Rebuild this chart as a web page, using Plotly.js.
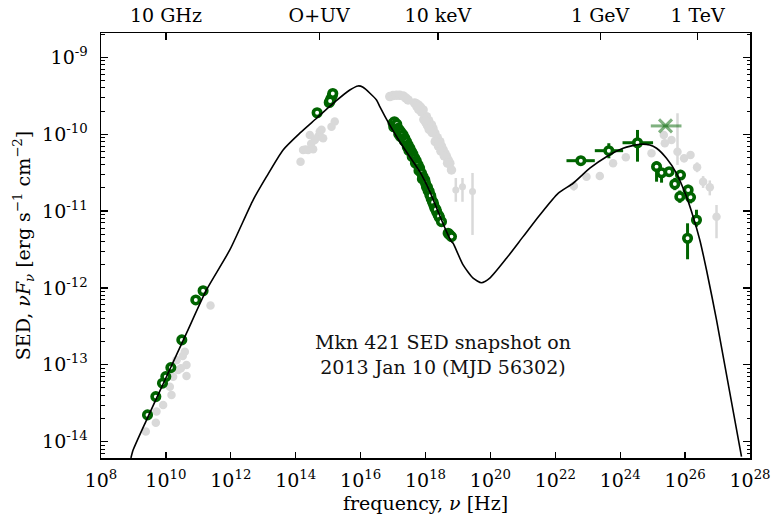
<!DOCTYPE html>
<html>
<head>
<meta charset="utf-8">
<script src="https://cdn.plot.ly/plotly-3.0.1.min.js"></script>
<style>html,body{margin:0;padding:0;background:#fff;}#chart{width:773px;height:521px;}</style>
</head>
<body>
<div id="chart"></div>
<script>
// ---------- data (frequency in Hz, SED in erg s^-1 cm^-2) ----------
// Radio (green, this epoch)
const radioNu  = [2.71e9, 4.89e9, 7.85e9, 9.93e9, 1.42e10, 3.09e10, 8.34e10, 1.40e11];
const radioSed = [2.23e-14, 3.86e-14, 5.77e-14, 7.03e-14, 9.2e-14, 2.11e-13, 6.98e-13, 9.2e-13];
// Optical / UV (green)
const optNu  = [4.57e14, 1.08e15, 1.21e15, 1.34e15, 1.39e15, 1.15e15];
const optSed = [1.90e-10, 2.58e-10, 2.87e-10, 3.18e-10, 3.38e-10, 2.70e-10];
// X-ray (green band)
const xrayNu  = [1.00e17, 1.10e17, 1.05e17, 1.20e17, 1.30e17, 1.43e17, 1.60e17, 1.50e17, 1.80e17, 1.70e17, 2.04e17, 2.30e17, 2.20e17, 2.60e17, 2.91e17, 2.75e17,
                 3.30e17, 3.10e17, 3.71e17, 4.10e17, 3.90e17, 4.68e17, 5.20e17, 4.90e17, 5.92e17, 6.60e17, 6.30e17, 7.53e17, 8.40e17, 8.00e17, 9.51e17, 1.00e18, 1.07e18,
                 1.15e18, 1.20e18, 1.30e18, 1.36e18, 1.50e18, 1.45e18, 1.64e18, 1.80e18, 1.72e18, 1.94e18, 2.20e18, 2.10e18, 2.45e18, 2.70e18, 2.60e18, 3.11e18, 4.98e18, 5.60e18, 6.32e18];
const xraySed = [1.39e-10, 1.45e-10, 1.25e-10, 1.28e-10, 1.35e-10, 1.19e-10, 1.12e-10, 1.00e-10, 1.05e-10, 9.3e-11, 9.77e-11, 8.9e-11, 8.2e-11, 8.0e-11, 7.24e-11, 6.8e-11,
                 6.6e-11, 6.1e-11, 5.92e-11, 5.5e-11, 5.1e-11, 4.86e-11, 4.5e-11, 4.2e-11, 3.97e-11, 3.6e-11, 3.35e-11, 3.10e-11, 2.8e-11, 2.62e-11, 2.54e-11, 2.3e-11, 2.07e-11,
                 2.05e-11, 1.85e-11, 1.80e-11, 1.62e-11, 1.45e-11, 1.58e-11, 1.32e-11, 1.2e-11, 1.30e-11, 1.09e-11, 9.8e-12, 1.05e-11, 8.89e-12, 8.2e-12, 8.6e-12, 7.28e-12, 5.14e-12, 4.90e-12, 4.65e-12];
// Fermi-LAT (green, with bin widths)
const lateNu   = [6.12e22, 4.46e23, 3.41e24];
const lateNuLo = [2.21e22, 1.65e23, 1.18e24];
const lateNuHi = [1.65e23, 1.23e24, 1.03e25];
const lateSed  = [4.52e-11, 6.10e-11, 7.74e-11];
const lateLo   = [4.10e-11, 4.86e-11, 4.39e-11];
const lateHi   = [5.00e-11, 7.62e-11, 1.135e-10];
// Light green point
const ulNu   = [2.49e25];
const ulNuLo = [8.77e24];
const ulNuHi = [7.74e25];
const ulSed  = [1.28e-10];
// VHE (green)
const vheNu  = [1.32e25, 1.88e25, 3.21e25, 4.82e25, 7.21e25, 6.87e25, 1.47e26, 1.24e26, 2.24e26, 1.19e26];
const vheSed = [3.78e-11, 3.15e-11, 3.25e-11, 2.25e-11, 2.94e-11, 1.54e-11, 1.51e-11, 1.88e-11, 7.66e-12, 4.43e-12];
const vheLo  = [2.41e-11, 2.34e-11, 2.83e-11, 1.87e-11, 2.56e-11, 1.28e-11, 1.26e-11, 1.60e-11, 6.27e-12, 2.36e-12];
const vheHi  = [4.39e-11, 3.56e-11, 3.73e-11, 2.70e-11, 3.38e-11, 1.85e-11, 1.81e-11, 2.20e-11, 1.04e-11, 6.93e-12];

// Archival / other epochs (grey)
const greyRadioNu  = [2.37e11, 3.83e10, 2.12e10, 4.32e10, 2.38e10, 4.32e10, 1.67e10, 1.32e10, 1.49e10, 8.2e9, 5.13e9, 4.89e9, 2.40e9, 3.3e10, 2.9e10];
const greyRadioSed = [5.89e-13, 1.48e-13, 1.15e-13, 9.93e-14, 8.55e-14, 7.14e-14, 7.0e-14, 5.2e-14, 4.06e-14, 3.01e-14, 2.47e-14, 1.77e-14, 1.36e-14, 1.30e-13, 9.0e-14];
const greyOptNu  = [1.41e14, 1.69e14, 2.41e14, 3.44e14, 2.72e14, 3.88e14, 4.90e14, 5.53e14, 6.24e14, 7.0e14, 1.27e15, 1.60e15, 2.0e14, 3.0e14];
const greyOptSed = [4.39e-11, 6.24e-11, 6.24e-11, 6.37e-11, 9.77e-11, 8.41e-11, 9.29e-11, 1.08e-10, 1.14e-10, 8.85e-11, 1.25e-10, 1.46e-10, 6.3e-11, 7.5e-11];
const greyXrayNu  = [7.94e16, 1.00e17, 1.28e17, 1.60e17, 2.04e17, 2.50e17, 2.91e17,
                     4.6e17, 5.2e17, 5.92e17, 7.0e17, 8.43e17, 1.07e18, 1.25e18, 1.53e18, 1.70e18, 1.94e18, 2.3e18, 2.76e18, 3.1e18, 3.49e18, 4.0e18, 4.44e18, 5.0e18, 5.61e18, 6.32e18,
                     5.4e17, 6.2e17, 7.5e17, 8.9e17, 1.0e18, 1.15e18, 1.3e18, 1.6e18, 2.0e18, 2.5e18, 3.0e18, 3.8e18, 4.8e18];
const greyXraySed = [3.08e-10, 3.18e-10, 3.22e-10, 3.20e-10, 3.14e-10, 2.95e-10, 2.79e-10,
                     2.55e-10, 2.48e-10, 2.40e-10, 2.25e-10, 2.07e-10, 1.69e-10, 1.50e-10, 1.32e-10, 1.18e-10, 1.03e-10, 9.0e-11, 7.98e-11, 7.0e-11, 6.24e-11, 5.6e-11, 5.09e-11, 4.6e-11, 4.19e-11, 3.42e-11,
                     2.30e-10, 2.10e-10, 1.95e-10, 1.55e-10, 1.45e-10, 1.30e-10, 1.15e-10, 1.05e-10, 8.0e-11, 7.0e-11, 6.0e-11, 5.2e-11, 4.2e-11];
const greyHxNu  = [8.59e18, 1.38e19, 2.81e19];
const greyHxSed = [1.88e-11, 2.07e-11, 1.79e-11];
const greyHxLo  = [1.32e-11, 1.32e-11, 4.89e-12];
const greyHxHi  = [2.69e-11, 2.69e-11, 3.13e-11];
const greyGamNu  = [3.72e22, 9.14e22, 2.35e23, 6.04e23, 1.49e24, 9.23e24, 2.21e25, 2.37e25, 3.81e25, 5.83e25, 9.31e25, 1.47e26, 2.34e26, 3.59e26, 5.77e26, 9.29e26];
const greyGamSed = [2.12e-11, 2.80e-11, 2.86e-11, 4.19e-11, 5.01e-11, 5.65e-11, 9.77e-11, 7.62e-11, 8.41e-11, 5.92e-11, 4.86e-11, 5.37e-11, 3.72e-11, 2.41e-11, 2.04e-11, 8.45e-12];
const greyGamLo  = [1.85e-11, 2.55e-11, 2.62e-11, 3.80e-11, 4.60e-11, 5.10e-11, 8.9e-11, 6.9e-11, 7.6e-11, 3.98e-11, 4.30e-11, 4.80e-11, 3.20e-11, 2.00e-11, 1.60e-11, 4.43e-12];
const greyGamHi  = [2.40e-11, 3.05e-11, 3.10e-11, 4.60e-11, 5.45e-11, 6.20e-11, 1.06e-10, 8.4e-11, 9.2e-11, 1.87e-10, 5.40e-11, 6.00e-11, 4.30e-11, 2.85e-11, 2.50e-11, 1.20e-11];

// Model curve
const modelNu  = [8.36e8, 9.75e8, 2.52e9, 1.04e10, 4.32e10, 1.78e11, 9.31e11, 4.86e12, 1.26e13, 4.09e13, 1.34e14, 4.38e14, 1.42e15,
                  4.65e15, 8.38e15, 1.19e16, 3.09e16, 3.91e16, 7.94e16, 1.61e17, 3.28e17, 6.67e17, 1.36e18, 2.44e18, 4.44e18,
                  6.32e18, 7.10e18, 1.44e19, 2.93e19, 5.32e19, 9.57e19, 3.13e20, 1.02e21, 3.33e21, 1.22e22, 3.54e22, 1.16e23,
                  3.78e23, 1.23e24, 4.02e24, 8.17e24, 1.32e25, 2.67e25, 5.43e25, 1.10e26, 1.77e26, 2.84e26, 4.57e26, 9.29e26, 5.47e27];
const modelSed = [6.14e-15, 7.78e-15, 1.91e-14, 7.0e-14, 2.58e-13, 9.42e-13, 3.12e-12, 1.39e-11, 2.80e-11, 6.24e-11, 1.03e-10, 1.61e-10, 2.52e-10,
                  3.76e-10, 4.24e-10, 4.07e-10, 2.79e-10, 2.28e-10, 1.31e-10, 7.98e-11, 5.09e-11, 3.25e-11, 1.79e-11, 9.82e-12, 5.40e-12,
                  4.0e-12, 3.81e-12, 1.99e-12, 1.34e-12, 1.17e-12, 1.34e-12, 2.43e-12, 4.65e-12, 8.89e-12, 1.70e-11, 2.30e-11, 3.61e-11,
                  5.09e-11, 6.56e-11, 7.40e-11, 7.24e-11, 6.56e-11, 4.86e-11, 3.10e-11, 1.54e-11, 8.45e-12, 4.21e-12, 1.71e-12, 3.85e-13, 6.40e-15];

// Tick labels
const bottomTickVals = [1e8, 1e10, 1e12, 1e14, 1e16, 1e18, 1e20, 1e22, 1e24, 1e26, 1e28];
const bottomTickText = ['10<sup>8</sup>', '10<sup>10</sup>', '10<sup>12</sup>', '10<sup>14</sup>', '10<sup>16</sup>', '10<sup>18</sup>',
                        '10<sup>20</sup>', '10<sup>22</sup>', '10<sup>24</sup>', '10<sup>26</sup>', '10<sup>28</sup>'];
const topTickVals = [1e10, 5.3e14, 2.42e18, 2.42e23, 2.42e26];
const topTickText = ['10 GHz', 'O+UV', '10 keV', '1 GeV', '1 TeV'];
const yTickVals = [1e-14, 1e-13, 1e-12, 1e-11, 1e-10, 1e-9];
const yTickText = ['10<sup>-14</sup>', '10<sup>-13</sup>', '10<sup>-12</sup>', '10<sup>-11</sup>', '10<sup>-10</sup>', '10<sup>-9</sup>'];
const annotationText = 'Mkn 421 SED snapshot on<br>2013 Jan 10 (MJD 56302)';

// ---------- styles ----------
const GREEN = '#006400';
const GREY = '#d9d9d9';
const diff = (a, b) => a.map((v, i) => v - b[i]);

const greenMarker = {symbol: 'circle', size: 7.5, color: 'white', line: {color: GREEN, width: 3.6}};
const greyMarker = {symbol: 'circle', size: 8.5, color: GREY};

const traces = [
  {x: greyRadioNu, y: greyRadioSed, mode: 'markers', marker: greyMarker},
  {x: greyOptNu, y: greyOptSed, mode: 'markers', marker: greyMarker},
  {x: greyXrayNu, y: greyXraySed, mode: 'markers', marker: {symbol: 'circle', size: 9.5, color: GREY}},
  {x: greyHxNu, y: greyHxSed, mode: 'markers', marker: {symbol: 'circle', size: 7, color: GREY},
   error_y: {type: 'data', symmetric: false, array: diff(greyHxHi, greyHxSed), arrayminus: diff(greyHxSed, greyHxLo), color: GREY, thickness: 2.5, width: 0}},
  {x: greyGamNu, y: greyGamSed, mode: 'markers', marker: greyMarker,
   error_y: {type: 'data', symmetric: false, array: diff(greyGamHi, greyGamSed), arrayminus: diff(greyGamSed, greyGamLo), color: GREY, thickness: 2.5, width: 0}},

  {x: radioNu, y: radioSed, mode: 'markers', marker: greenMarker},
  {x: optNu, y: optSed, mode: 'markers', marker: greenMarker},
  {x: xrayNu, y: xraySed, mode: 'markers', marker: greenMarker},
  {x: ulNu, y: ulSed, mode: 'markers',
   marker: {symbol: 'x-thin', size: 13, color: 'rgba(0,100,0,0.5)', line: {color: 'rgba(0,100,0,0.5)', width: 3}},
   error_x: {type: 'data', symmetric: false, array: diff(ulNuHi, ulNu), arrayminus: diff(ulNu, ulNuLo), color: 'rgba(0,100,0,0.5)', thickness: 3, width: 0}},
  {x: lateNu, y: lateSed, mode: 'markers', marker: greenMarker,
   error_x: {type: 'data', symmetric: false, array: diff(lateNuHi, lateNu), arrayminus: diff(lateNu, lateNuLo), color: GREEN, thickness: 3, width: 0},
   error_y: {type: 'data', symmetric: false, array: diff(lateHi, lateSed), arrayminus: diff(lateSed, lateLo), color: GREEN, thickness: 3, width: 0}},
  {x: vheNu, y: vheSed, mode: 'markers', marker: greenMarker,
   error_y: {type: 'data', symmetric: false, array: diff(vheHi, vheSed), arrayminus: diff(vheSed, vheLo), color: GREEN, thickness: 3, width: 0}},

  {x: modelNu, y: modelSed, xaxis: 'x2', yaxis: 'y', mode: 'lines', line: {color: 'black', width: 1.6, shape: 'spline', smoothing: 0.6}}
];
traces.forEach(t => { t.showlegend = false; t.hoverinfo = 'skip'; t.type = 'scatter'; });

const FONT = 'DejaVu Serif, serif';
const FS = 19;
const layout = {
  width: 773, height: 521,
  margin: {l: 101, r: 23, t: 33, b: 63},
  paper_bgcolor: 'white', plot_bgcolor: 'white',
  font: {family: FONT, size: FS, color: 'black'},
  showlegend: false,
  xaxis: {
    type: 'log', range: [8, 28], tickmode: 'array', tickvals: bottomTickVals, ticktext: bottomTickText,
    ticks: 'inside', ticklen: 6, tickwidth: 1.3, tickcolor: 'black', ticklabelstandoff: 5,
    showline: true, linewidth: 1.5, linecolor: 'black', mirror: true,
    showgrid: false, zeroline: false,
    tickfont: {family: FONT, size: FS},
    title: {text: 'frequency, <i>ν</i> [Hz]', font: {family: FONT, size: FS}, standoff: 6}
  },
  xaxis2: {
    type: 'log', range: [8, 28], overlaying: 'x', side: 'top', anchor: 'y',
    tickmode: 'array', tickvals: topTickVals, ticktext: topTickText,
    ticks: 'inside', ticklen: 7, tickwidth: 1.3, tickcolor: 'black', ticklabelstandoff: 2,
    showline: true, linewidth: 1.5, linecolor: 'black',
    showgrid: false, zeroline: false,
    tickfont: {family: FONT, size: FS}
  },
  yaxis: {
    type: 'log', range: [-14.212, -8.684], tickmode: 'array', tickvals: yTickVals, ticktext: yTickText,
    ticks: 'inside', ticklen: 7, tickwidth: 1.3, tickcolor: 'black', ticklabelstandoff: 8,
    showline: true, linewidth: 1.5, linecolor: 'black', mirror: 'ticks',
    showgrid: false, zeroline: false,
    minor: {ticks: 'inside', ticklen: 3.5, tickwidth: 1, tickcolor: 'black', dtick: 'D1', showgrid: false},
    tickfont: {family: FONT, size: FS},
    title: {text: 'SED, <i>νF</i><sub><i>ν</i></sub> [erg s<sup>−1</sup> cm<sup>−2</sup>]', font: {family: FONT, size: FS}, standoff: 6}
  },
  annotations: [{
    text: annotationText, xref: 'paper', yref: 'paper', x: 0.527, y: 0.243,
    xanchor: 'center', yanchor: 'middle', showarrow: false, align: 'center',
    font: {family: FONT, size: 19, color: '#111'}
  }]
};

Plotly.newPlot('chart', traces, layout, {displayModeBar: false, staticPlot: true});
</script>
</body>
</html>
